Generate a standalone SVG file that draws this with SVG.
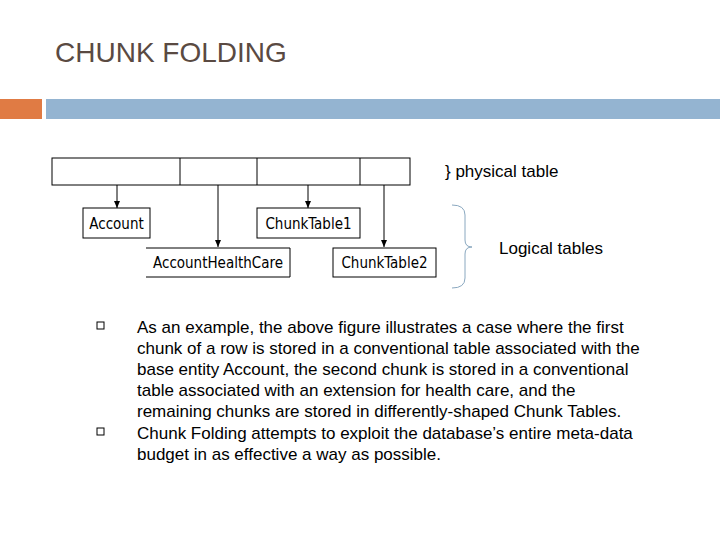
<svg xmlns="http://www.w3.org/2000/svg" width="720" height="540" viewBox="0 0 720 540">
<defs><marker id="a" markerWidth="8" markerHeight="8" refX="7" refY="4" orient="auto" markerUnits="userSpaceOnUse"><path d="M0,1 L7,4 L0,7 z" fill="#000"/></marker></defs>
<style>
.b{fill:#fff;stroke:#000;stroke-width:1}
.t{font-family:"DejaVu Sans Condensed","Liberation Sans",sans-serif;font-size:15px;fill:#000}
.s{font-family:"Liberation Sans",Arial,sans-serif;font-size:17px;fill:#000}
.c line{stroke:#000;stroke-width:1;marker-end:url(#a)}
</style>
<rect width="720" height="540" fill="#fff"/>
<text x="55" y="62" font-family="Liberation Sans,Arial,sans-serif" font-size="28" fill="#5a4a42">CHUNK FOLDING</text>
<rect x="0" y="99" width="42" height="20" fill="#e07b44"/>
<rect x="46" y="99" width="674" height="20" fill="#94b4d1"/>
<g id="physical"><rect class="b" x="52" y="158" width="358" height="27"/><path d="M180,158V185M257,158V185M360,158V185" stroke="#000"/></g>
<g class="c"><line x1="117" y1="185" x2="117" y2="208"/><line x1="218" y1="185" x2="218" y2="247"/><line x1="308" y1="185" x2="308" y2="208"/><line x1="384" y1="185" x2="384" y2="247"/></g>
<g id="account"><rect class="b" x="83" y="208" width="67" height="30"/><text class="t" x="116.5" y="229" text-anchor="middle">Account</text></g>
<g id="ct1"><rect class="b" x="257" y="208" width="103" height="30"/><text class="t" x="308.5" y="229" text-anchor="middle">ChunkTable1</text></g>
<g id="ahc"><path d="M146,248H290V277H146" class="b"/><text class="t" x="218" y="268" text-anchor="middle">AccountHealthCare</text></g>
<g id="ct2"><rect class="b" x="333" y="248" width="103" height="29"/><text class="t" x="384.5" y="268" text-anchor="middle">ChunkTable2</text></g>
<path d="M452,205Q465,205 465,215V240Q465,247 472,247Q465,247 465,254V278Q465,288 452,288" fill="none" stroke="#8aa8c0"/>
<text class="s" x="445" y="177" font-size="16">} physical table</text>
<text class="s" x="499" y="254" font-size="16">Logical tables</text>
<g fill="none" stroke="#000"><rect x="97" y="322" width="7" height="7"/><rect x="97" y="428" width="7" height="7"/></g>
<text class="s"><tspan x="137" y="333">As an example, the above figure illustrates a case where the first</tspan><tspan x="137" y="354">chunk of a row is stored in a conventional table associated with the</tspan><tspan x="137" y="375">base entity Account, the second chunk is stored in a conventional</tspan><tspan x="137" y="396">table associated with an extension for health care, and the</tspan><tspan x="137" y="417">remaining chunks are stored in differently-shaped Chunk Tables.</tspan><tspan x="137" y="439">Chunk Folding attempts to exploit the database’s entire meta-data</tspan><tspan x="137" y="460">budget in as effective a way as possible.</tspan></text>
</svg>
